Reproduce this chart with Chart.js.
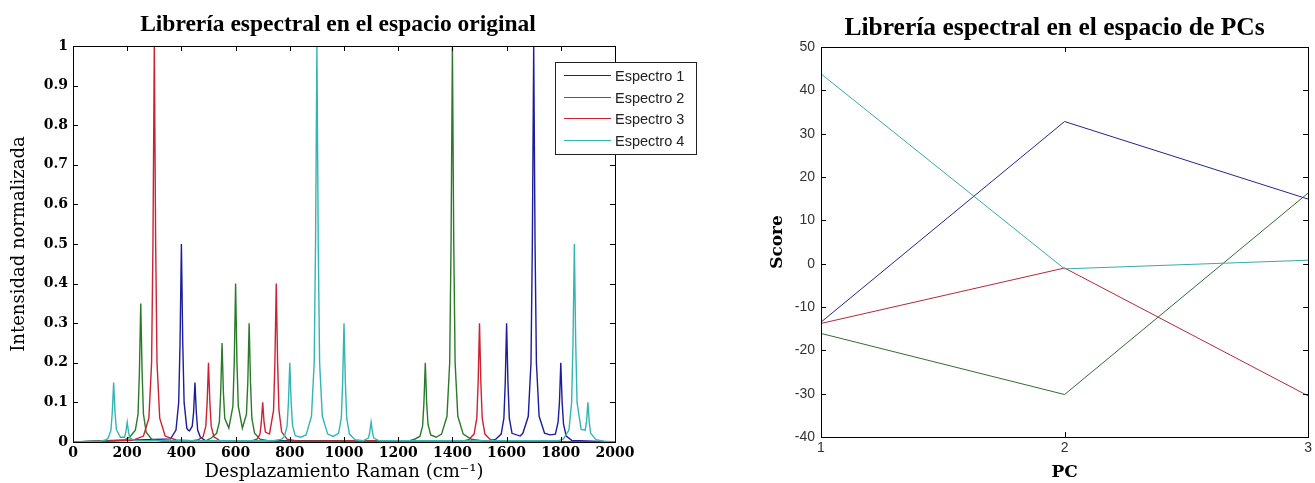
<!DOCTYPE html>
<html>
<head>
<meta charset="utf-8">
<script src="https://cdn.jsdelivr.net/npm/chart.js@4.4.1/dist/chart.umd.min.js"></script>
<style>
  html, body { margin: 0; padding: 0; background: #fff; }
  #left { position: absolute; left: 0; top: 0; width: 730px; height: 483px; }
  #right { position: absolute; left: 735px; top: 0; width: 580px; height: 483px; }
</style>
</head>
<body>
<div id="left"><canvas id="spectra"></canvas></div>
<div id="right"><canvas id="scores"></canvas></div>
<script>
// data

const spectrumNames = ['Espectro 1', 'Espectro 2', 'Espectro 3', 'Espectro 4'];
const spectrumColors = ['#1c1c9c', '#2a7a2a', '#cc2233', '#33b5b5'];

// [Raman shift (cm-1), normalized intensity]
const espectro1 = [[0,0],[360,0.008],[380,0.03],[390,0.1],[395,0.25],[400,0.5],[405,0.25],[410,0.1],[420,0.035],[425,0.03],
  [430,0.028],[440,0.04],[445,0.075],[450,0.15],[455,0.075],[460,0.03],[470,0.012],[490,0.003],
  [1540,0.003],[1560,0.007],[1580,0.02],[1590,0.06],[1595,0.15],[1600,0.3],[1605,0.15],[1610,0.06],[1620,0.022],[1650,0.015],
  [1660,0.022],[1680,0.065],[1690,0.2],[1695,0.5],[1700,1],[1705,0.5],[1710,0.2],[1720,0.065],[1740,0.022],[1760,0.018],
  [1780,0.02],[1790,0.05],[1795,0.1],[1800,0.2],[1805,0.1],[1810,0.045],[1820,0.015],[1840,0.004],[2000,0]];

const espectro2 = [[0,0],[190,0.005],[210,0.013],[230,0.03],[240,0.07],[245,0.175],[250,0.35],[255,0.175],[260,0.07],[270,0.025],[290,0.007],[330,0.002],
  [490,0.003],[510,0.01],[530,0.022],[540,0.05],[545,0.125],[550,0.25],[555,0.125],[560,0.06],[575,0.035],
  [590,0.09],[595,0.2],[600,0.4],[605,0.2],[610,0.09],[625,0.035],[640,0.07],[645,0.15],[650,0.3],[655,0.15],[660,0.06],[670,0.022],[690,0.007],[730,0.002],
  [1240,0.003],[1260,0.007],[1280,0.014],[1290,0.04],[1295,0.1],[1300,0.2],[1305,0.1],[1310,0.045],[1320,0.018],[1340,0.012],
  [1360,0.02],[1380,0.065],[1390,0.2],[1395,0.5],[1400,1],[1405,0.5],[1410,0.2],[1420,0.065],[1440,0.02],[1470,0.007],[1520,0.002],[2000,0]];

const espectro3 = [[0,0],[220,0.004],[260,0.015],[280,0.06],[290,0.2],[295,0.5],[300,1],[305,0.5],[310,0.2],[320,0.06],[340,0.015],[380,0.005],
  [440,0.003],[460,0.005],[480,0.013],[490,0.04],[495,0.1],[500,0.2],[505,0.1],[510,0.04],[520,0.013],[540,0.004],
  [660,0.003],[680,0.008],[690,0.02],[695,0.05],[700,0.1],[705,0.05],[710,0.025],[725,0.02],
  [740,0.08],[745,0.2],[750,0.4],[755,0.2],[760,0.08],[770,0.025],[790,0.007],[830,0.002],
  [1440,0.003],[1460,0.006],[1480,0.02],[1490,0.06],[1495,0.15],[1500,0.3],[1505,0.15],[1510,0.06],[1520,0.02],[1540,0.006],[1580,0.002],[2000,0]];

const espectro4 = [[0,0],[100,0.002],[120,0.005],[130,0.01],[140,0.03],[145,0.075],[150,0.15],[155,0.075],[160,0.032],[175,0.012],
  [190,0.012],[195,0.025],[200,0.05],[205,0.025],[210,0.01],[230,0.003],
  [740,0.003],[770,0.007],[780,0.014],[790,0.04],[795,0.1],[800,0.2],[805,0.1],[810,0.042],[820,0.016],[840,0.012],
  [860,0.018],[880,0.065],[890,0.2],[895,0.5],[900,1],[905,0.5],[910,0.2],[920,0.065],[940,0.02],[960,0.014],
  [980,0.022],[990,0.06],[995,0.15],[1000,0.3],[1005,0.15],[1010,0.06],[1020,0.02],[1040,0.006],[1070,0.003],
  [1090,0.01],[1095,0.025],[1100,0.05],[1105,0.025],[1110,0.01],[1130,0.003],
  [1790,0.003],[1810,0.008],[1830,0.03],[1840,0.1],[1845,0.25],[1850,0.5],[1855,0.25],[1860,0.1],[1875,0.032],
  [1890,0.03],[1895,0.052],[1900,0.1],[1905,0.05],[1910,0.022],[1930,0.006],[1960,0.002],[2000,0]];

const spectra = [espectro1, espectro2, espectro3, espectro4];

// scores in PC space
const pcs = [1, 2, 3];
const score1 = [-13.5, 32.8, 14.9];
const score2 = [-16.1, -30.2, 16.3];
const score3 = [-13.8, -1.0, -30.5];
const score4 = [43.8, -1.2, 0.8];
const scoreColors = ['#25258a', '#2f6f2f', '#b02a3a', '#3aa9a9'];

// matlab style box with ticks pointing inwards
const matlabBox = {
  id: 'matlabBox',
  afterDatasetsDraw(chart, args, opts) {
    const { ctx, chartArea: a, scales } = chart;
    const len = opts.tickLength || 5;
    ctx.save();
    ctx.strokeStyle = opts.color || '#000';
    ctx.lineWidth = 1;
    ctx.beginPath();
    scales.x.ticks.forEach(t => {
      const px = Math.round(scales.x.getPixelForValue(t.value)) + 0.5;
      ctx.moveTo(px, a.bottom); ctx.lineTo(px, a.bottom - len);
      ctx.moveTo(px, a.top); ctx.lineTo(px, a.top + len);
    });
    scales.y.ticks.forEach(t => {
      const py = Math.round(scales.y.getPixelForValue(t.value)) + 0.5;
      ctx.moveTo(a.left, py); ctx.lineTo(a.left + len, py);
      ctx.moveTo(a.right, py); ctx.lineTo(a.right - len, py);
    });
    ctx.stroke();
    ctx.strokeRect(Math.round(a.left) + 0.5, Math.round(a.top) + 0.5,
      Math.round(a.right - a.left), Math.round(a.bottom - a.top));
    ctx.restore();
  }
};

// title centred over the axes box, as matlab does
const axesTitle = {
  id: 'axesTitle',
  afterDraw(chart, args, opts) {
    if (!opts.text) return;
    const { ctx, chartArea: a } = chart;
    ctx.save();
    ctx.font = opts.font;
    ctx.fillStyle = '#000';
    ctx.textAlign = 'center';
    ctx.textBaseline = 'alphabetic';
    ctx.fillText(opts.text, (a.left + a.right) / 2 + (opts.dx || 0), opts.y);
    ctx.restore();
  }
};

// boxed legend, allowed to stick out of the axes like in matlab
const boxLegend = {
  id: 'boxLegend',
  afterDraw(chart, args, opts) {
    if (!opts.display) return;
    const ctx = chart.ctx;
    const { x, y, w, h, rowHeight } = opts;
    ctx.save();
    ctx.fillStyle = '#fff';
    ctx.fillRect(x, y, w, h);
    ctx.strokeStyle = '#222';
    ctx.lineWidth = 1;
    ctx.strokeRect(x + 0.5, y + 0.5, w, h);
    ctx.font = '14.5px "Liberation Sans", Arial, sans-serif';
    ctx.textBaseline = 'middle';
    chart.data.datasets.forEach((ds, i) => {
      const ry = Math.round(y + 13 + i * rowHeight) + 0.5;
      ctx.strokeStyle = ds.borderColor;
      ctx.beginPath();
      ctx.moveTo(x + 9, ry);
      ctx.lineTo(x + 56, ry);
      ctx.stroke();
      ctx.fillStyle = '#222';
      ctx.fillText(ds.label, x + 60, ry + 1);
    });
    ctx.restore();
  }
};

Chart.register(matlabBox, axesTitle, boxLegend);

const serifBold = { family: '"DejaVu Serif", serif', weight: 'bold', size: 14 };
const noGrid = { display: false, drawTicks: false, tickLength: 0 };

new Chart(document.getElementById('spectra'), {
  type: 'line',
  data: {
    datasets: spectra.map((s, i) => ({
      label: spectrumNames[i],
      data: s.map(p => ({ x: p[0], y: p[1] })),
      borderColor: spectrumColors[i],
      borderWidth: 1.4,
      pointRadius: 0,
      tension: 0,
      order: 4 - i
    }))
  },
  options: {
    responsive: true,
    maintainAspectRatio: false,
    animation: false,
    layout: { padding: { left: 0, right: 115, top: 46, bottom: 0 }, autoPadding: false },
    plugins: {
      legend: { display: false },
      tooltip: { enabled: false },
      axesTitle: {
        text: 'Librería espectral en el espacio original',
        font: 'bold 23.5px "Liberation Serif", serif',
        y: 31, dx: -6
      },
      matlabBox: { tickLength: 5 },
      boxLegend: { display: true, x: 555, y: 62, w: 141, h: 92, rowHeight: 21.7 }
    },
    scales: {
      x: {
        type: 'linear', min: 0, max: 2000,
        grid: noGrid,
        border: { display: false },
        ticks: {
          stepSize: 200, color: '#000', font: serifBold, padding: 3, maxRotation: 0, autoSkip: false,
          callback: v => String(v)
        },
        title: {
          display: true,
          text: 'Desplazamiento Raman (cm⁻¹)',
          color: '#000',
          font: { family: '"DejaVu Serif", serif', size: 18 },
          padding: { top: 1, bottom: 0 }
        },
        afterFit(s) { s.height = 41; }
      },
      y: {
        min: 0, max: 1,
        grid: noGrid,
        border: { display: false },
        ticks: {
          stepSize: 0.1, color: '#000', font: serifBold, padding: 5, autoSkip: false,
          callback: v => String(+v.toFixed(1))
        },
        title: {
          display: true,
          text: 'Intensidad normalizada',
          color: '#000',
          font: { family: '"DejaVu Serif", serif', size: 18 },
          padding: { top: 9, bottom: 0 }
        },
        afterFit(s) { s.width = 73; }
      }
    }
  }
});

const scoreSets = [score1, score2, score3, score4];
const sansTick = { family: '"Liberation Sans", Arial, sans-serif', size: 14 };

new Chart(document.getElementById('scores'), {
  type: 'line',
  data: {
    datasets: scoreSets.map((s, i) => ({
      label: spectrumNames[i],
      data: s.map((v, j) => ({ x: pcs[j], y: v })),
      borderColor: scoreColors[i],
      borderWidth: 1,
      pointRadius: 0,
      tension: 0,
      order: 4 - i
    }))
  },
  options: {
    responsive: true,
    maintainAspectRatio: false,
    animation: false,
    layout: { padding: { left: 0, right: 2, top: 47, bottom: 0 }, autoPadding: false },
    plugins: {
      legend: { display: false },
      tooltip: { enabled: false },
      axesTitle: {
        text: 'Librería espectral en el espacio de PCs',
        font: 'bold 25.5px "Liberation Serif", serif',
        y: 35, dx: -10
      },
      matlabBox: { tickLength: 5 },
      boxLegend: { display: false }
    },
    scales: {
      x: {
        type: 'linear', min: 1, max: 3,
        grid: noGrid,
        border: { display: false },
        ticks: { stepSize: 1, color: '#333', font: sansTick, padding: 3, maxRotation: 0, autoSkip: false },
        title: {
          display: true,
          text: 'PC',
          color: '#000',
          font: { family: '"DejaVu Serif", serif', weight: 'bold', size: 17 },
          padding: { top: 0, bottom: 0 }
        },
        afterFit(s) { s.height = 46; }
      },
      y: {
        min: -40, max: 50,
        grid: noGrid,
        border: { display: false },
        ticks: { stepSize: 10, color: '#333', font: sansTick, padding: 6, autoSkip: false },
        title: {
          display: true,
          text: 'Score',
          color: '#000',
          font: { family: '"DejaVu Serif", serif', weight: 'bold', size: 17 },
          padding: { top: 32, bottom: 0 }
        },
        afterFit(s) { s.width = 86; }
      }
    }
  }
});
</script>
</body>
</html>
